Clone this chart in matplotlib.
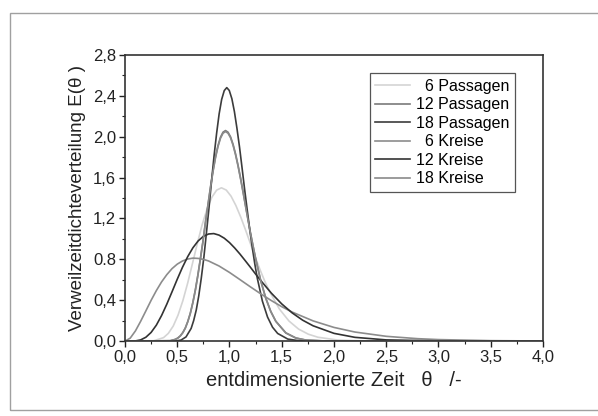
import matplotlib
matplotlib.use('Agg')
import matplotlib.pyplot as plt
from matplotlib.patches import Rectangle
from matplotlib.ticker import MultipleLocator

plt.rcParams['font.family'] = ['Liberation Sans', 'DejaVu Sans']

# values
theta_p18 = [0.0, 0.49, 0.536, 0.584, 0.633, 0.657, 0.682, 0.706, 0.730, 0.755, 0.779, 0.804, 0.828,
             0.852, 0.877, 0.901, 0.925, 0.950, 0.974, 0.998, 1.023, 1.047, 1.071, 1.096, 1.120,
             1.144, 1.169, 1.193, 1.218, 1.242, 1.266, 1.315, 1.364, 1.412, 1.461, 1.558, 1.656,
             1.753, 4.0]
e_p18 = [0.0, 0.002, 0.010, 0.041, 0.124, 0.200, 0.304, 0.443, 0.615, 0.821, 1.055, 1.304, 1.562,
         1.809, 2.034, 2.223, 2.364, 2.451, 2.48, 2.452, 2.371, 2.246, 2.085, 1.899, 1.698,
         1.492, 1.289, 1.096, 0.918, 0.757, 0.616, 0.391, 0.236, 0.136, 0.075, 0.020, 0.005,
         0.001, 0.0]

theta_p12 = [0.0, 0.433, 0.481, 0.505, 0.529, 0.553, 0.577, 0.601, 0.625, 0.649, 0.673, 0.697, 0.721,
             0.746, 0.769, 0.794, 0.818, 0.842, 0.866, 0.890, 0.914, 0.938, 0.962, 0.986, 1.010,
             1.034, 1.058, 1.082, 1.106, 1.130, 1.154, 1.178, 1.202, 1.227, 1.251, 1.299, 1.347,
             1.395, 1.443, 1.539, 1.635, 1.732, 1.924, 4.0]
e_p12 = [0.0, 0.004, 0.017, 0.030, 0.051, 0.083, 0.128, 0.192, 0.272, 0.376, 0.499, 0.643, 0.803,
         0.976, 1.156, 1.335, 1.507, 1.665, 1.802, 1.913, 1.995, 2.044, 2.06, 2.044, 1.999,
         1.926, 1.832, 1.720, 1.595, 1.462, 1.324, 1.187, 1.053, 0.925, 0.804, 0.592, 0.421,
         0.290, 0.194, 0.080, 0.030, 0.010, 0.001, 0.0]

theta_p6 = [0.0, 0.277, 0.369, 0.415, 0.462, 0.508, 0.554, 0.600, 0.646, 0.692, 0.738, 0.785, 0.831,
            0.877, 0.923, 0.969, 1.015, 1.061, 1.108, 1.154, 1.200, 1.246, 1.292, 1.338, 1.385,
            1.477, 1.569, 1.661, 1.754, 1.846, 2.031, 2.31, 4.0]
e_p6 = [0.0, 0.004, 0.034, 0.076, 0.148, 0.255, 0.396, 0.568, 0.760, 0.954, 1.137, 1.291, 1.407,
        1.477, 1.50, 1.478, 1.418, 1.327, 1.213, 1.087, 0.955, 0.824, 0.700, 0.585, 0.483,
        0.315, 0.197, 0.118, 0.068, 0.038, 0.011, 0.001, 0.0]

theta_k6 = [0.0, 0.05, 0.1, 0.15, 0.2, 0.25, 0.3, 0.35, 0.4, 0.45, 0.5, 0.55, 0.6, 0.65, 0.7, 0.75,
            0.8, 0.9, 1.0, 1.1, 1.2, 1.3, 1.4, 1.5, 1.6, 1.8, 2.0, 2.2, 2.5, 2.8, 3.0, 3.5, 4.0]
e_k6 = [0.0, 0.029, 0.100, 0.194, 0.296, 0.399, 0.494, 0.579, 0.650, 0.709, 0.753, 0.784, 0.803,
        0.812, 0.809, 0.800, 0.784, 0.735, 0.672, 0.602, 0.531, 0.462, 0.397, 0.337, 0.284,
        0.198, 0.134, 0.089, 0.047, 0.024, 0.015, 0.0045, 0.0013]

theta_k12 = [0.0, 0.1, 0.15, 0.2, 0.25, 0.3, 0.35, 0.4, 0.45, 0.5, 0.55, 0.6, 0.65, 0.7, 0.75, 0.8,
             0.85, 0.9, 0.95, 1.0, 1.05, 1.1, 1.15, 1.2, 1.25, 1.3, 1.4, 1.5, 1.6, 1.7, 1.8, 2.0,
             2.2, 2.5, 3.0, 4.0]
e_k12 = [0.0, 0.002, 0.012, 0.038, 0.085, 0.156, 0.250, 0.361, 0.482, 0.605, 0.722, 0.826, 0.913,
         0.980, 1.025, 1.048, 1.052, 1.037, 1.007, 0.964, 0.911, 0.852, 0.788, 0.723, 0.656,
         0.592, 0.470, 0.364, 0.276, 0.205, 0.150, 0.076, 0.037, 0.012, 0.002, 0.0]

theta_k18 = [0.0, 0.433, 0.481, 0.505, 0.529, 0.553, 0.577, 0.601, 0.625, 0.649, 0.673, 0.697, 0.721,
             0.746, 0.769, 0.794, 0.818, 0.842, 0.866, 0.890, 0.914, 0.938, 0.962, 0.986, 1.010,
             1.034, 1.058, 1.082, 1.106, 1.130, 1.154, 1.178, 1.202, 1.227, 1.251, 1.299, 1.347,
             1.395, 1.443, 1.539, 1.635, 1.732, 1.924, 4.0]
e_k18 = [0.0, 0.004, 0.016, 0.029, 0.050, 0.082, 0.126, 0.190, 0.270, 0.373, 0.495, 0.639, 0.798,
         0.970, 1.149, 1.327, 1.498, 1.656, 1.792, 1.903, 1.985, 2.034, 2.05, 2.034, 1.990,
         1.917, 1.823, 1.712, 1.588, 1.456, 1.318, 1.182, 1.049, 0.922, 0.802, 0.591, 0.421,
         0.291, 0.195, 0.081, 0.031, 0.010, 0.001, 0.0]

labels = ['  6 Passagen', '12 Passagen', '18 Passagen', '  6 Kreise', '12 Kreise', '18 Kreise']

fig = plt.figure(figsize=(5.98, 4.16), dpi=100)
ax = fig.add_axes([0.209, 0.180, 0.699, 0.688])

fig.patches.append(Rectangle((10/598, 6/416), 1.0, (410-13)/416, transform=fig.transFigure,
                             fill=False, edgecolor='#a0a0a0', linewidth=1.0))

ax.plot(theta_p6, e_p6, color='#d4d4d4', lw=1.2, label=labels[0])
ax.plot(theta_p12, e_p12, color='#7a7a7a', lw=1.2, label=labels[1])
ax.plot(theta_p18, e_p18, color='#3c3c3c', lw=1.2, label=labels[2])
ax.plot(theta_k6, e_k6, color='#8c8c8c', lw=1.2, label=labels[3])
ax.plot(theta_k12, e_k12, color='#333333', lw=1.2, label=labels[4])
ax.plot(theta_k18, e_k18, color='#8a8a8a', lw=1.2, label=labels[5])

ax.set_xlim(0, 4.0)
ax.set_ylim(0, 2.8)
ax.xaxis.set_major_locator(MultipleLocator(0.5))
ax.xaxis.set_minor_locator(MultipleLocator(0.25))
ax.yaxis.set_major_locator(MultipleLocator(0.4))
ax.yaxis.set_minor_locator(MultipleLocator(0.2))
ax.set_xticklabels([f'{v:.1f}'.replace('.', ',') for v in ax.get_xticks()])
ylabs = [f'{v:.1f}'.replace('.', ',') for v in ax.get_yticks()]
ylabs = ['0.8' if s == '0,8' else s for s in ylabs]
ax.set_yticklabels(ylabs)
ax.tick_params(which='major', direction='out', length=4, width=1.0, labelsize=12,
               colors='#222222', pad=2.5)
ax.tick_params(which='minor', direction='out', length=2.5, width=0.8, colors='#222222')
for s in ax.spines.values():
    s.set_linewidth(1.2)
    s.set_color('#333333')

ax.set_xlabel('entdimensionierte Zeit   θ   /-', fontsize=14.5, color='#222222', labelpad=4)
ax.set_ylabel('Verweilzeitdichteverteilung E(θ )', fontsize=13.5, color='#222222', labelpad=5)

leg = ax.legend(loc='upper right', bbox_to_anchor=(515/598, 1 - 73/416), bbox_transform=fig.transFigure,
                borderaxespad=0, fontsize=11.5, labelspacing=0.22, handlelength=2.2, handletextpad=0.35,
                fancybox=False, framealpha=1, edgecolor='#555555', borderpad=0.35)
leg.get_frame().set_linewidth(0.9)

fig.savefig('out.png', dpi=100)
